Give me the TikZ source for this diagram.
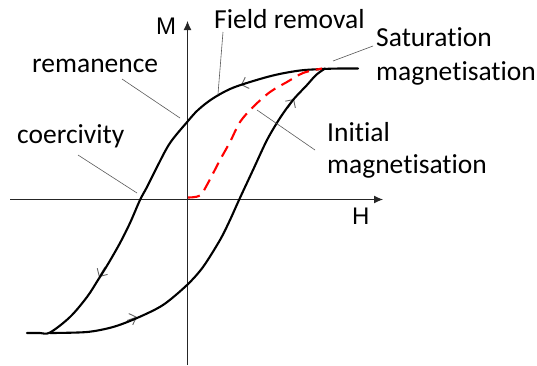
\documentclass[tikz,border=0pt]{standalone}
\usepackage{fontspec}
\setmainfont{Carlito}[Ligatures=NoCommon]
\newfontfamily\axisfont{Liberation Sans}
\usetikzlibrary{arrows.meta}
\begin{document}
\begin{tikzpicture}[x=1pt,y=-1pt,
  lbl/.style={anchor=base west,inner sep=0pt,font=\fontsize{27.5}{34}\selectfont},
  axlbl/.style={anchor=base west,inner sep=0pt,font=\axisfont\fontsize{24}{28}\selectfont},
  axis/.style={draw=black!85,line width=1.1pt,-{Latex[length=9pt,width=8pt]}},
  leader/.style={draw=black!65,line width=0.6pt},
  loop/.style={draw=black,line width=2.1pt,line cap=round,line join=round},
  initc/.style={draw=red,line width=2.1pt,dash pattern=on 12pt off 7pt},
  chev/.style={draw=black!60,line width=0.9pt,-{Straight Barb[length=6pt,width=12pt]}}]
\useasboundingbox (0,0) rectangle (537,365);
% axes
\coordinate (hs) at (10,199.5);
\coordinate (he) at (383,199.5);
\coordinate (vs) at (187.5,365);
\coordinate (ve) at (187.5,21);
\draw[axis] (hs) -- (he);
\draw[axis] (vs) -- (ve);
\node[axlbl] (M) at (156,34) {M};
\node[axlbl] (H) at (352,224) {H};
% direction chevrons
\coordinate (c1a) at (251,81.5); \coordinate (c1b) at (241,85);
\coordinate (c2a) at (105,267); \coordinate (c2b) at (99,277);
\coordinate (c3a) at (127,320.5); \coordinate (c3b) at (137,317);
\coordinate (c4a) at (288,108); \coordinate (c4b) at (294,99);
\draw[chev] (c1a) -- (c1b);
\draw[chev] (c2a) -- (c2b);
\draw[chev] (c3a) -- (c3b);
\draw[chev] (c4a) -- (c4b);
% loop
\draw[loop] plot[smooth,tension=0.55] coordinates {(358,68.5) (340,68.5) (323,69) (300,70.5) (275,75) (250,82) (230,89) (212,99) (198,110) (188,121) (170,143) (157,167) (147,187) (140,200) (130,223) (120,243) (108,264) (98,280) (87,297) (70,317) (50,332.5) (40,333) (27,333)};
\draw[loop] plot[smooth,tension=0.5] coordinates {(50,333) (87,332) (113,327) (137,318) (163,305) (187,285) (203,267) (220,240) (230,220) (239,200) (253,170) (267,140) (280,118) (293,100) (307,85) (316,75) (325,68.5)};
% initial magnetisation
\draw[initc] plot[smooth,tension=0.5] coordinates {(188,197.5) (200,195.5) (208,183) (220,160) (230,142) (240,122) (253,107) (270,92) (287,82) (303,73) (322,68.5)};
% labels
\node[lbl] (fr) at (214,28) {Field removal};
\node[lbl] (rem) at (32,72) {remanence};
\node[lbl] (coe) at (17,143) {coercivity};
\node[lbl] (sat1) at (376,46) {Saturation};
\node[lbl] (sat2) at (376,80) {magnetisation};
\node[lbl] (ini1) at (327,141.5) {Initial};
\node[lbl] (ini2) at (327,173) {magnetisation};
% leader lines
\coordinate (frA) at (223,32); \coordinate (frB) at (218,94);
\coordinate (remA) at (122,79); \coordinate (remB) at (180,118);
\coordinate (coeA) at (78,155); \coordinate (coeB) at (137,193);
\coordinate (satA) at (373,46); \coordinate (satB) at (333,61);
\coordinate (iniA) at (315,150); \coordinate (iniB) at (257,110);
\draw[leader] (frA) -- (frB);
\draw[leader] (remA) -- (remB);
\draw[leader] (coeA) -- (coeB);
\draw[leader] (satA) -- (satB);
\draw[leader] (iniA) -- (iniB);
\end{tikzpicture}
\end{document}
